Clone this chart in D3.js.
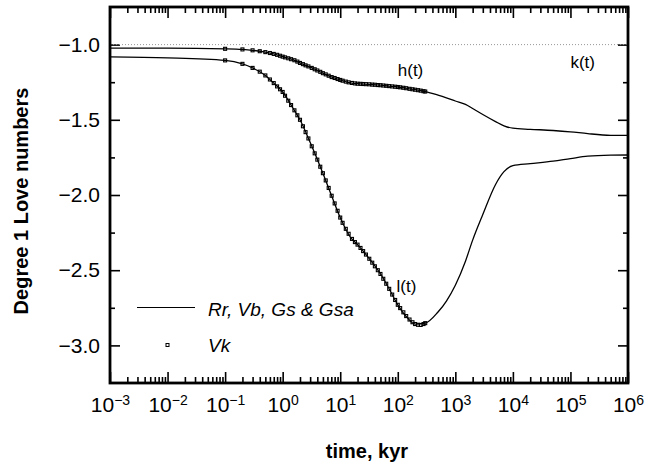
<!DOCTYPE html>
<html>
<head>
<meta charset="utf-8">
<script src="https://cdn.jsdelivr.net/npm/d3@7"></script>
<style>
  html, body { margin: 0; padding: 0; background: #fff; width: 647px; height: 470px; overflow: hidden; }
  svg { display: block; }
  text { font-family: "Liberation Sans", Arial, Helvetica, sans-serif; }
</style>
<script>
// model curves (Rr, Vb, Gs & Gsa), time in kyr
const timeKyr = [0.001, 0.01, 0.1, 0.2, 0.3, 0.5, 0.7, 1, 1.5, 2, 3, 5, 7, 10, 15, 20, 30, 50, 70,
  100, 150, 200, 300, 500, 700, 1000, 1500, 2000, 3000, 5000, 7000, 1e4, 2e4, 5e4, 1e5, 2e5, 5e5, 1e6];
const hLine = [-1.024, -1.024, -1.028, -1.032, -1.038, -1.050, -1.062, -1.080, -1.100, -1.122, -1.150, -1.190, -1.215,
  -1.235, -1.254, -1.260, -1.264, -1.270, -1.276, -1.282, -1.292, -1.300, -1.312, -1.336, -1.354, -1.375,
  -1.398, -1.425, -1.465, -1.512, -1.540, -1.556, -1.563, -1.571, -1.580, -1.592, -1.603, -1.604];
const lLine = [-1.082, -1.088, -1.105, -1.128, -1.155, -1.205, -1.256, -1.315, -1.420, -1.500, -1.650, -1.855, -2.000,
  -2.150, -2.280, -2.330, -2.410, -2.525, -2.620, -2.730, -2.820, -2.858, -2.852, -2.778, -2.705, -2.600,
  -2.440, -2.300, -2.130, -1.930, -1.845, -1.805, -1.792, -1.775, -1.758, -1.742, -1.735, -1.734];
const kValue = -1.0;

// Vk solution (markers)
const vkTime = [0.1, 0.2, 0.3, 0.4, 0.5, 0.6, 0.7, 0.8, 0.9, 1,
  1.1, 1.25, 1.4, 1.6, 1.8, 2, 2.25, 2.5, 2.8, 3.2, 3.6, 4, 4.5, 5, 5.6, 6.3, 7.1, 8, 9, 10,
  11, 12.5, 14, 16, 18, 20, 22.5, 25, 28, 32, 36, 40, 45, 50, 56, 63, 71, 80, 90, 100,
  110, 125, 140, 160, 180, 200, 225, 250, 280, 300];
const vkH = [-1.028, -1.032, -1.038, -1.044, -1.050, -1.056, -1.062, -1.068, -1.074, -1.080,
  -1.085, -1.091, -1.097, -1.104, -1.113, -1.122, -1.130, -1.138, -1.145, -1.155, -1.164, -1.172, -1.181, -1.190, -1.198, -1.207, -1.216, -1.222, -1.229, -1.235,
  -1.240, -1.246, -1.251, -1.255, -1.258, -1.260, -1.261, -1.262, -1.263, -1.264, -1.266, -1.267, -1.269, -1.270, -1.272, -1.274, -1.276, -1.278, -1.280, -1.282,
  -1.284, -1.287, -1.290, -1.294, -1.297, -1.300, -1.303, -1.306, -1.310, -1.312];
const vkL = [-1.105, -1.128, -1.155, -1.180, -1.205, -1.232, -1.256, -1.278, -1.297, -1.315,
  -1.340, -1.373, -1.402, -1.437, -1.470, -1.500, -1.543, -1.582, -1.624, -1.676, -1.723, -1.765, -1.812, -1.855, -1.903, -1.953, -2.005, -2.056, -2.105, -2.150,
  -2.185, -2.225, -2.258, -2.292, -2.313, -2.330, -2.352, -2.373, -2.396, -2.424, -2.450, -2.474, -2.500, -2.525, -2.557, -2.590, -2.624, -2.662, -2.698, -2.730,
  -2.752, -2.780, -2.805, -2.828, -2.846, -2.858, -2.863, -2.864, -2.858, -2.852];

const xExponents = [-3, -2, -1, 0, 1, 2, 3, 4, 5, 6];
const yMajor = [-3.0, -2.5, -2.0, -1.5, -1.0];
const yMinor = [-2.75, -2.25, -1.75, -1.25];

function draw() {
  const width = 647, height = 470;
  const margin = { top: 7, right: 19, bottom: 87, left: 110 };
  const innerWidth = width - margin.left - margin.right;
  const innerHeight = height - margin.top - margin.bottom;

  const svg = d3.select("body").append("svg")
    .attr("width", width).attr("height", height)
    .attr("viewBox", `0 0 ${width} ${height}`);
  const g = svg.append("g").attr("transform", `translate(${margin.left}, ${margin.top})`);

  const xScale = d3.scaleLog().domain([1e-3, 1e6]).range([0, innerWidth]);
  const yScale = d3.scaleLinear().domain([-3.25, -0.75]).range([innerHeight, 0]);

  const xMajor = xExponents.map(e => Math.pow(10, e));
  const xMinor = [];
  xExponents.slice(0, -1).forEach(e => { for (let m = 2; m <= 9; m++) xMinor.push(m * Math.pow(10, e)); });

  // minor ticks + unlabeled top/right ticks
  const minor = g.append("g").attr("class", "minor");
  minor.append("g").attr("transform", `translate(0, ${innerHeight})`)
    .call(d3.axisBottom(xScale).tickValues(xMinor).tickSize(-6).tickFormat(""));
  minor.append("g")
    .call(d3.axisTop(xScale).tickValues(xMinor).tickSize(-6).tickFormat(""));
  minor.append("g").call(d3.axisLeft(yScale).tickValues(yMinor).tickSize(-5).tickFormat(""));
  minor.append("g").attr("transform", `translate(${innerWidth}, 0)`)
    .call(d3.axisRight(yScale).tickValues(yMinor).tickSize(-5).tickFormat(""));
  minor.append("g")
    .call(d3.axisTop(xScale).tickValues(xMajor).tickSize(-11).tickFormat(""));
  minor.append("g").attr("transform", `translate(${innerWidth}, 0)`)
    .call(d3.axisRight(yScale).tickValues(yMajor).tickSize(-10).tickFormat(""));
  minor.selectAll("text").remove();

  // major ticks with labels
  const xAxis = g.append("g").attr("class", "x-axis").attr("transform", `translate(0, ${innerHeight})`)
    .call(d3.axisBottom(xScale).tickValues(xMajor).tickSize(-11).tickPadding(14));
  const yAxis = g.append("g").attr("class", "y-axis")
    .call(d3.axisLeft(yScale).tickValues(yMajor).tickSize(-10).tickPadding(10).tickFormat(d3.format(".1f")));

  g.selectAll(".domain").remove();
  g.selectAll(".tick line").attr("stroke", "#000").attr("stroke-width", 1.6);

  yAxis.selectAll(".tick text").attr("font-size", "21px").attr("fill", "#000");
  xAxis.selectAll(".tick text").attr("font-size", "21px").attr("fill", "#000")
    .each(function (d) {
      const t = d3.select(this);
      t.text(null);
      t.append("tspan").text("10");
      t.append("tspan").attr("dy", "-0.5em").attr("font-size", "14px")
        .text(String(Math.round(Math.log10(d))).replace("-", "\u2212"));
    });

  // k(t) = -1 dotted reference
  g.append("line")
    .attr("x1", 0).attr("x2", innerWidth)
    .attr("y1", yScale(kValue)).attr("y2", yScale(kValue))
    .attr("stroke", "#999").attr("stroke-width", 1).attr("stroke-dasharray", "1,2");

  const line = d3.line().curve(d3.curveMonotoneX);
  [hLine, lLine].forEach(vals => {
    g.append("path")
      .attr("d", line(timeKyr.map((t, i) => [xScale(t), yScale(vals[i])])))
      .attr("fill", "none").attr("stroke", "#000").attr("stroke-width", 1.3);
  });

  [vkH, vkL].forEach(vals => {
    g.append("g").selectAll("rect").data(vkTime).join("rect")
      .attr("x", (t) => xScale(t) - 1.5)
      .attr("y", (t, i) => yScale(vals[i]) - 1.5)
      .attr("width", 3).attr("height", 3)
      .attr("fill", "none").attr("stroke", "#000").attr("stroke-width", 1.1);
  });

  // curve labels
  g.append("text").attr("x", xScale(100)).attr("y", 69).attr("font-size", "17px").text("h(t)");
  g.append("text").attr("x", xScale(1e5)).attr("y", 61).attr("font-size", "17px").text("k(t)");
  g.append("text").attr("x", xScale(95)).attr("y", 285).attr("font-size", "17px").text("l(t)");

  // legend
  g.append("line").attr("x1", 27).attr("x2", 85).attr("y1", 300.5).attr("y2", 300.5)
    .attr("stroke", "#000").attr("stroke-width", 1.2);
  g.append("text").attr("x", 98).attr("y", 309).attr("font-size", "19px").attr("font-style", "italic")
    .text("Rr, Vb, Gs & Gsa");
  g.append("rect").attr("x", 56).attr("y", 336.5).attr("width", 3).attr("height", 3)
    .attr("fill", "none").attr("stroke", "#000").attr("stroke-width", 1);
  g.append("text").attr("x", 98).attr("y", 345).attr("font-size", "19px").attr("font-style", "italic")
    .text("Vk");

  // frame
  g.append("rect").attr("x", 0).attr("y", 0).attr("width", innerWidth).attr("height", innerHeight)
    .attr("fill", "none").attr("stroke", "#000").attr("stroke-width", 2.8);

  // axis titles
  svg.append("text")
    .attr("text-anchor", "middle")
    .attr("x", margin.left + innerWidth / 2 - 2)
    .attr("y", 458)
    .attr("font-size", "20px").attr("font-weight", "bold")
    .text("time, kyr");

  svg.append("text")
    .attr("text-anchor", "middle")
    .attr("transform", "rotate(-90)")
    .attr("x", -201)
    .attr("y", 28)
    .attr("font-size", "20px").attr("font-weight", "bold")
    .text("Degree 1 Love numbers");
}

document.addEventListener("DOMContentLoaded", draw);
</script>
</head>
<body>
</body>
</html>
